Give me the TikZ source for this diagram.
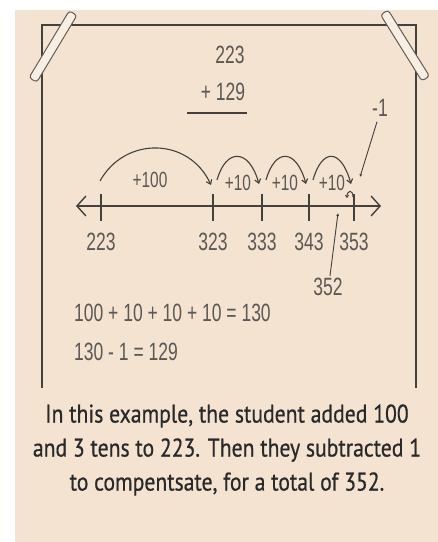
\documentclass[tikz,border=0pt]{standalone}
\usepackage{fontspec}
\setmainfont[FakeStretch=0.85, FakeBold=0.6]{PT Sans}
\newfontfamily\handfont[FakeStretch=0.7]{Liberation Sans}
\usetikzlibrary{arrows.meta, positioning}

\definecolor{paper}{RGB}{244,227,208}
\definecolor{ink}{RGB}{68,64,60}
\definecolor{pencil}{RGB}{92,88,84}
\definecolor{tapefill}{RGB}{248,239,226}

\begin{document}
\begin{tikzpicture}[
    x=1pt, y=-1pt,
    hand/.style={font=\handfont\fontsize{25}{25}\selectfont, text=pencil, inner sep=0pt},
    hoplabel/.style={hand, font=\handfont\fontsize{22}{22}\selectfont},
    frame/.style={draw=ink, line width=1.8pt},
    tapestrip/.style={draw=ink!85, fill=tapefill, line width=1pt, rounded corners=3pt,
        minimum width=78pt, minimum height=9pt, inner sep=0pt},
    hop/.style={draw=ink, line width=1.1pt, -{Straight Barb[length=4pt, width=6pt]}},
    tickmark/.style={draw=ink, line width=1.3pt},
    pointer/.style={draw=ink, line width=0.9pt, -{Latex[length=3pt, width=3pt]}},
  ]

  % ==================== PAPER ====================

  \fill[white] (0,0) rectangle (438,542);
  \fill[paper] (15,10) rectangle (438,542);
  \useasboundingbox (0,0) rectangle (438,542);

  % open-bottomed sheet, taped at both corners
  \draw[frame] (42,388) -- (42,25) -- (416,25) -- (416,388);
  \node[tapestrip, rotate=59] (tapeL) at (53,46.5) {};
  \node[tapestrip, rotate=-58] (tapeR) at (405,45.5) {};

  % ==================== SUM ====================

  \node[hand] (sumTop) at (230,55) {223};
  \node[hand] (sumAdd) at (223,92) {+ 129};
  \coordinate (barL) at (187,113);
  \coordinate (barR) at (247,113);
  \draw[ink, line width=1.5pt] (barL) -- (barR);

  % ==================== NUMBER LINE ====================

  \coordinate (lineL) at (76,206);
  \coordinate (lineR) at (381,206);
  \draw[ink, line width=1.4pt,
    {Straight Barb[length=9pt, width=20pt]}-{Straight Barb[length=9pt, width=20pt]}]
    (lineL) -- (lineR);

  \foreach \x/\v in {101/223, 213/323, 262/333, 309/343, 354/353} {
    \coordinate (t\v) at (\x,206);
    \draw[tickmark] ([yshift=12pt]t\v) -- ([yshift=-15pt]t\v);
    \node[hand] (n\v) at (\x,242) {\v};
  }

  % jumps forward
  \draw[hop] ([shift={(-1,-25)}]t223) .. controls +(25,-45) and +(-22,-48) .. ([shift={(-2,-21)}]t323);
  \foreach \a/\b in {323/333, 333/343, 343/353}
    \draw[hop] ([shift={(4,-26)}]t\a) .. controls +(9,-32) and +(-10,-36) .. ([shift={(-3,-22)}]t\b);

  \node[hoplabel] (jump100) at (150,180) {+100};
  \node[hoplabel] (jump10a) at (238,183) {+10};
  \node[hoplabel] (jump10b) at (285,183) {+10};
  \node[hoplabel] (jump10c) at (332,183) {+10};

  % step back by one
  \draw[ink, line width=1pt, -{Straight Barb[length=2pt, width=3pt]}]
    ([shift={(-1,-9)}]t353) .. controls +(0,-8) and +(0,-8) .. ([shift={(-7,-8)}]t353);

  \node[hand] (minusOne) at (380,108) {-1};
  \coordinate (backTip) at (360,177);
  \draw[pointer] ([shift={(-3,5)}]minusOne.south) -- (backTip);

  \node[hand] (answer) at (328,287) {352};
  \coordinate (answerTip) at (338,213);
  \draw[pointer] ([shift={(2,-2)}]answer.north) -- (answerTip);

  % ==================== WORKING ====================

  \node[hand, anchor=west] (sumTens) at (74,313) {100 + 10 + 10 + 10 = 130};
  \node[hand, anchor=west] (sumBack) at (74,352) {130 - 1 = 129};

  % ==================== CAPTION ====================

  \node[align=center, font=\fontsize{25.5}{34}\selectfont, text=black!84] (caption) at (227,450)
    {In this example, the student added 100\\
     and 3 tens to 223. Then they subtracted 1\\
     to compentsate, for a total of 352.};

\end{tikzpicture}
\end{document}
